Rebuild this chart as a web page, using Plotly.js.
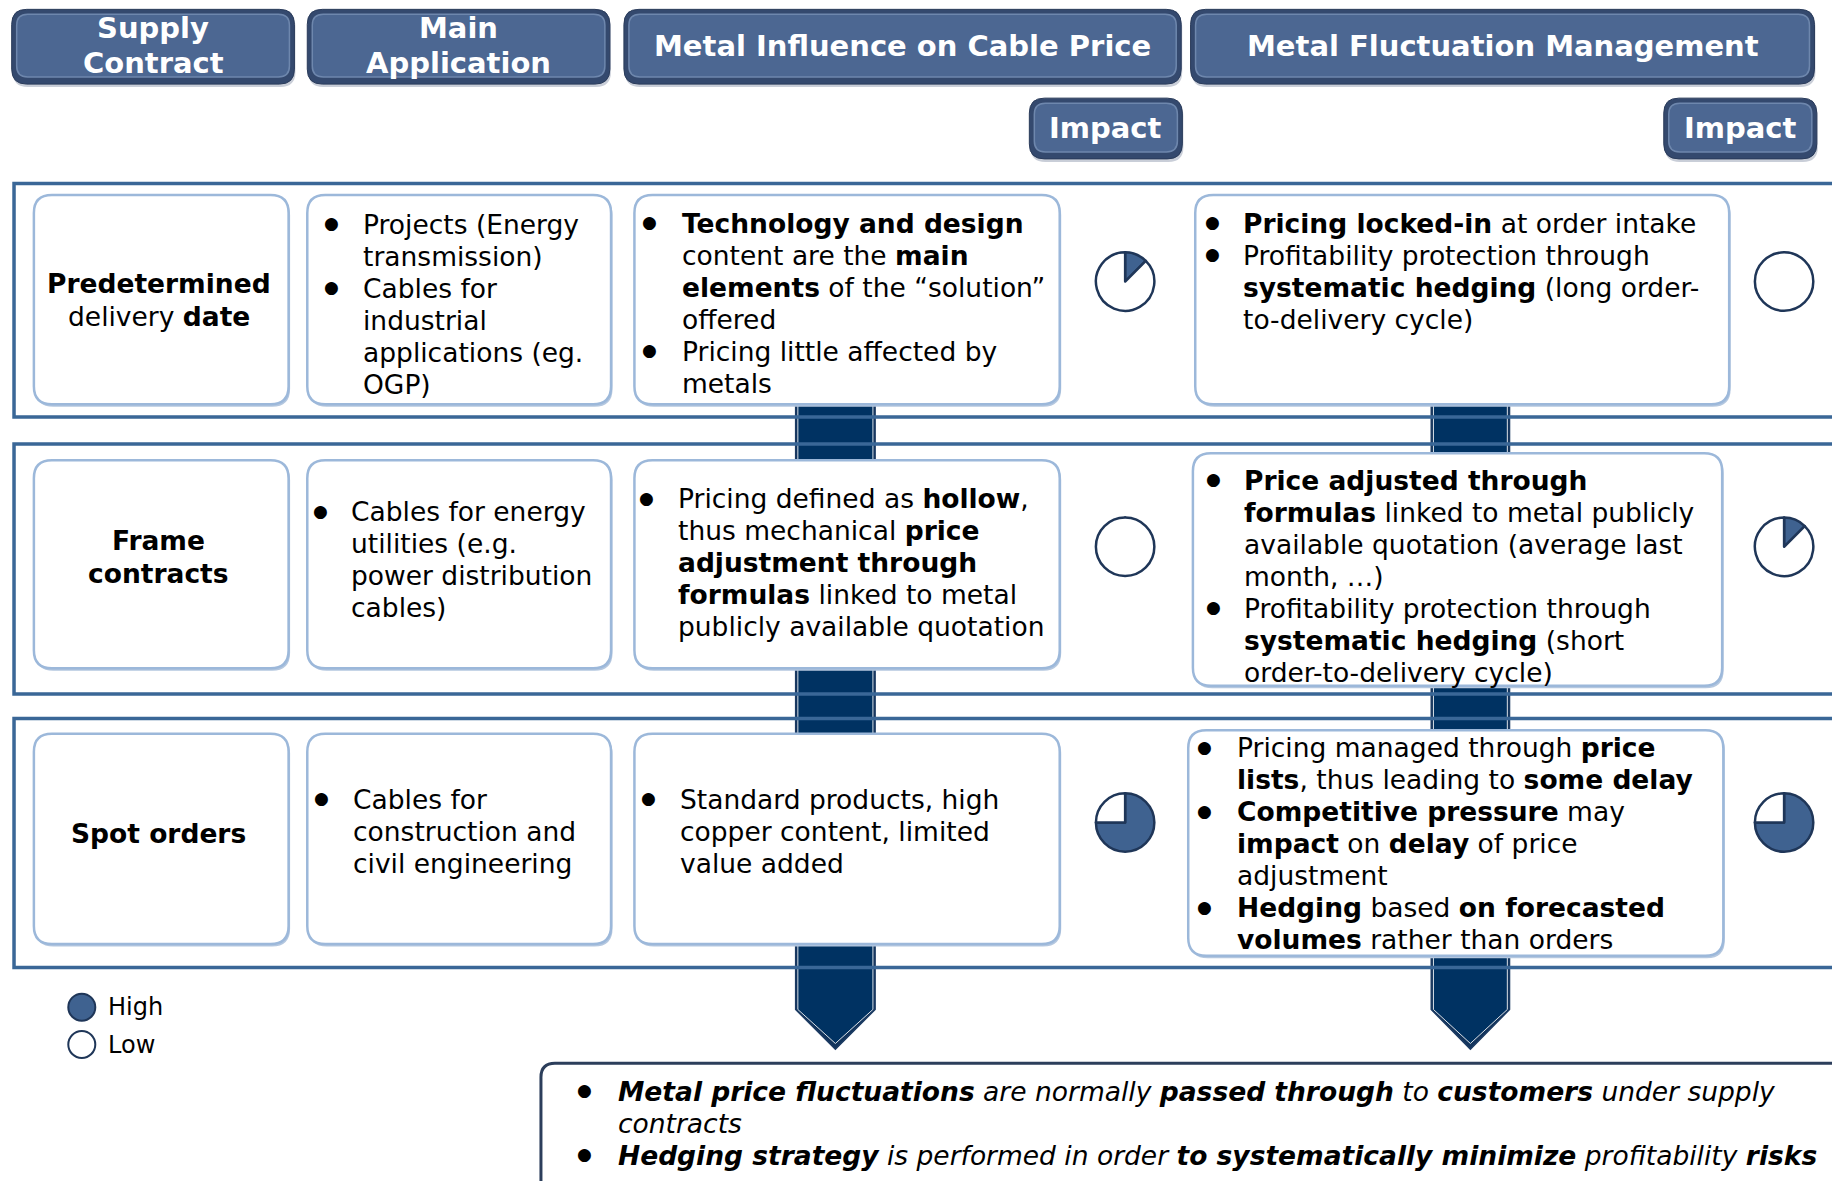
<!DOCTYPE html>
<html>
<head>
<meta charset="utf-8">
<script src="https://cdn.plot.ly/plotly-3.0.1.min.js"></script>
<style>html,body{margin:0;padding:0;background:#fff;overflow:hidden}#chart{width:1832px;height:1181px}</style>
</head>
<body>
<div id="chart"></div>
<script>
// ---------------- DATA ----------------
const headers = [['Supply', 'Contract'], ['Main', 'Application'], ['Metal Influence on Cable Price'], ['Metal Fluctuation Management']];
const impactLabel = 'Impact';

const supplyContracts = [
  ['<b>Predetermined</b>', 'delivery <b>date</b>'],
  ['<b>Frame</b>', '<b>contracts</b>'],
  ['<b>Spot orders</b>']
];

const mainApplication = [
  [['Projects (Energy', 'transmission)'], ['Cables for', 'industrial', 'applications (eg.', 'OGP)']],
  [['Cables for energy', 'utilities (e.g.', 'power distribution', 'cables)']],
  [['Cables for', 'construction and', 'civil engineering']]
];

const metalInfluence = [
  [['<b>Technology and design</b>', 'content are the <b>main</b>', '<b>elements</b> of the \u201csolution\u201d', 'offered'], ['Pricing little affected by', 'metals']],
  [['Pricing defined as <b>hollow</b>,', 'thus mechanical <b>price</b>', '<b>adjustment through</b>', '<b>formulas</b> linked to metal', 'publicly available quotation']],
  [['Standard products, high', 'copper content, limited', 'value added']]
];

const fluctuationManagement = [
  [['<b>Pricing locked-in</b> at order intake'], ['Profitability protection through', '<b>systematic hedging</b> (long order-', 'to-delivery cycle)']],
  [['<b>Price adjusted through</b>', '<b>formulas</b> linked to metal publicly', 'available quotation (average last', 'month, \u2026)'], ['Profitability protection through', '<b>systematic hedging</b> (short', 'order-to-delivery cycle)']],
  [['Pricing managed through <b>price</b>', '<b>lists</b>, thus leading to <b>some delay</b>'], ['<b>Competitive pressure</b> may', '<b>impact</b> on <b>delay</b> of price', 'adjustment'], ['<b>Hedging</b> based <b>on forecasted</b>', '<b>volumes</b> rather than orders']]
];

// Harvey-ball impact (share of the circle that is filled)
const influenceImpact = [0.125, 0, 0.75];
const fluctuationImpact = [0, 0.125, 0.75];

const legendLabels = ['High', 'Low'];
const legendFill = [1, 0];

const conclusions = [
  ['<i><b>Metal price fluctuations</b> are normally <b>passed through</b> to <b>customers</b> under supply</i>', '<i>contracts</i>'],
  ['<i><b>Hedging strategy</b> is performed in order <b>to systematically minimize</b> profitability <b>risks</b></i>']
];

// ---------------- LAYOUT GEOMETRY ----------------
const W = 1832, H = 1181;
const S = W / 1568;
const s = v => v * S;
const FONT = 'DejaVu Sans';
const BODY = 26.5;
const BALL_FILL = '#3f6290', BALL_LINE = '#1f3658';

function rr(x0, y0, x1, y1, r) {
  return `M${x0 + r},${y0} L${x1 - r},${y0} Q${x1},${y0} ${x1},${y0 + r} L${x1},${y1 - r} Q${x1},${y1} ${x1 - r},${y1} L${x0 + r},${y1} Q${x0},${y1} ${x0},${y1 - r} L${x0},${y0 + r} Q${x0},${y0} ${x0 + r},${y0} Z`;
}

const shapes = [];
const annotations = [];

function text(x, y, t, opts = {}) {
  annotations.push(Object.assign({
    x: x, y: y, xref: 'x', yref: 'y', text: t, showarrow: false,
    xanchor: 'left', yanchor: 'middle',
    font: { family: FONT, size: BODY, color: '#000' }
  }, opts));
}

// header buttons
function header(x0, y0, x1, y1, lines, size) {
  const X0 = s(x0), Y0 = s(y0), X1 = s(x1), Y1 = s(y1);
  shapes.push({ type: 'path', path: rr(X0 + 1, Y0 + 3, X1 + 1, Y1 + 3, 15), fillcolor: '#c9ced8', line: { width: 0 } });
  shapes.push({ type: 'path', path: rr(X0, Y0, X1, Y1, 15), fillcolor: '#34496e', line: { color: '#2a3b5a', width: 1 } });
  shapes.push({ type: 'path', path: rr(X0 + 5, Y0 + 5, X1 - 5, Y1 - 7, 11), fillcolor: '#4c6792', line: { color: '#6e87ad', width: 1.5 } });
  const cx = (X0 + X1) / 2, cy = (Y0 + Y1) / 2 - 1;
  const pitch = 35;
  lines.forEach((l, i) => {
    text(cx, cy + (i - (lines.length - 1) / 2) * pitch, '<b>' + l + '</b>', {
      xanchor: 'center', font: { family: FONT, size: size, color: '#ffffff' }
    });
  });
}
const headerBoxes = [[10, 8, 252, 72], [263, 8, 522, 72], [534, 8, 1011, 72], [1019, 8, 1553, 72]];
headers.forEach((h, i) => header(...headerBoxes[i], h, 29));
header(881, 84, 1012, 136, [impactLabel], 29);
header(1424, 84, 1555, 136, [impactLabel], 29);

// arrows
function arrow(xl, xr, ytop, yshaft, ytip) {
  const xm = (xl + xr) / 2;
  const p = (a, b, c, d, e) => `M${s(a)},${s(c)} L${s(b)},${s(c)} L${s(b)},${s(d)} L${s(xm)},${s(e)} L${s(a)},${s(d)} Z`;
  shapes.push({ type: 'path', path: p(xl, xr, ytop, yshaft, ytip), fillcolor: '#12345c', line: { color: '#1b3a62', width: 1.5 } });
  const k = 2.2 / S;
  shapes.push({ type: 'path', path: `M${s(xl + k)},${s(ytop)} L${s(xr - k)},${s(ytop)} L${s(xr - k)},${s(yshaft)} L${s(xm)},${s(ytip - 2.6 * k)} L${s(xl + k)},${s(yshaft)} Z`, fillcolor: '#003262', line: { color: 'rgba(255,255,255,0.85)', width: 1 } });
}
arrow(681, 749, 340, 864, 898);
arrow(1225, 1292, 340, 864, 898);

// row frames
const frames = [[157, 357], [380, 594], [615, 828]];
frames.forEach(f => {
  shapes.push({ type: 'rect', x0: s(12), x1: W + 20, y0: s(f[0]), y1: s(f[1]), line: { color: '#3a6797', width: 3.5 }, fillcolor: 'rgba(0,0,0,0)' });
});

// inner boxes
const colX = [[29, 247], [263, 523], [543, 907]];
const col4X = [[1023, 1480], [1021, 1474], [1017, 1475]];
const boxY = [[167, 346], [394, 572], [628, 808]];
const col4Y = [[167, 346], [388, 587], [625, 818]];
function box(x0, y0, x1, y1) {
  const X0 = s(x0), Y0 = s(y0), X1 = s(x1), Y1 = s(y1);
  shapes.push({ type: 'path', path: rr(X0 + 1.5, Y0 + 2, X1 + 1.5, Y1 + 2.5, 18), fillcolor: '#b4c7df', line: { width: 0 } });
  shapes.push({ type: 'path', path: rr(X0, Y0, X1, Y1, 18), fillcolor: '#ffffff', line: { color: '#9cb8da', width: 2.5 } });
}
for (let r = 0; r < 3; r++) {
  colX.forEach(c => box(c[0], boxY[r][0], c[1], boxY[r][1]));
  box(col4X[r][0], col4Y[r][0], col4X[r][1], col4Y[r][1]);
}

// bottom conclusion box
{
  const X0 = s(463), Y0 = s(910);
  shapes.push({ type: 'path', path: rr(X0 + 2, Y0 + 3, W + 40, H + 40, 14), fillcolor: '#8d97a6', line: { width: 0 } });
  shapes.push({ type: 'path', path: rr(X0, Y0, W + 30, H + 30, 14), fillcolor: '#ffffff', line: { color: '#2c3e5b', width: 3 } });
}

// ---------------- TEXT ----------------
const PITCH = 27.4;
function cell(bullets, bx, tx, y0) {
  let k = 0;
  bullets.forEach(lines => {
    lines.forEach((l, j) => {
      const y = s(y0 + k * PITCH);
      if (j === 0) text(s(bx), y - 1, '\u25cf', { xanchor: 'center', font: { family: FONT, size: 17, color: '#000' } });
      text(s(tx), y, l);
      k++;
    });
  });
}

// column 1 labels
const col1Y = [257, 477, 713];
supplyContracts.forEach((lines, r) => {
  lines.forEach((l, i) => text(s(136), s(col1Y[r] + (i - (lines.length - 1) / 2) * 28), l, { xanchor: 'center' }));
});

const c2 = { b: [284, 274, 275], t: [309, 299, 300], y: [192, 438, 684] };
const c3 = { b: [556, 553, 555], t: [582, 579, 580], y: [191, 427, 684] };
const c4 = { b: [1038, 1039, 1031], t: [1062, 1063, 1057], y: [191, 411, 640] };
for (let r = 0; r < 3; r++) {
  cell(mainApplication[r], c2.b[r], c2.t[r], c2.y[r]);
  cell(metalInfluence[r], c3.b[r], c3.t[r], c3.y[r]);
  cell(fluctuationManagement[r], c4.b[r], c4.t[r], c4.y[r]);
}

// conclusions
cell(conclusions, 500, 527, 934);

// legend labels
legendLabels.forEach((l, i) => text(s(91), s(862 + i * 32), l, { font: { family: FONT, size: 24, color: '#000' } }));

// ---------------- TRACES ----------------
const traces = [];
const ballX = [963, 1527], ballY = [241, 468, 704], ballR = 25;
[influenceImpact, fluctuationImpact].forEach((vals, c) => {
  vals.forEach((v, r) => {
    const cx = s(ballX[c]), cy = s(ballY[r]), R = s(ballR);
    traces.push({
      type: 'pie', values: [v, 1 - v], sort: false, direction: 'clockwise', rotation: 0,
      marker: { colors: [BALL_FILL, '#ffffff'], line: { color: BALL_LINE, width: 2.5 } },
      textinfo: 'none', hoverinfo: 'skip', showlegend: false,
      domain: { x: [(cx - R) / W, (cx + R) / W], y: [1 - (cy + R) / H, 1 - (cy - R) / H] }
    });
  });
});

// legend markers
traces.push({
  type: 'scatter', mode: 'markers', hoverinfo: 'skip', showlegend: false,
  x: legendFill.map(() => s(70)), y: legendFill.map((f, i) => s(862 + i * 32)),
  marker: { size: 27, color: legendFill.map(f => f ? BALL_FILL : '#ffffff'), line: { color: BALL_LINE, width: 2 } }
});

const layout = {
  width: W, height: H, margin: { l: 0, r: 0, t: 0, b: 0 },
  paper_bgcolor: '#ffffff', plot_bgcolor: '#ffffff', showlegend: false,
  xaxis: { range: [0, W], visible: false, fixedrange: true },
  yaxis: { range: [H, 0], visible: false, fixedrange: true },
  shapes: shapes, annotations: annotations
};

Plotly.newPlot('chart', traces, layout, { staticPlot: true, displayModeBar: false });
</script>
</body>
</html>
